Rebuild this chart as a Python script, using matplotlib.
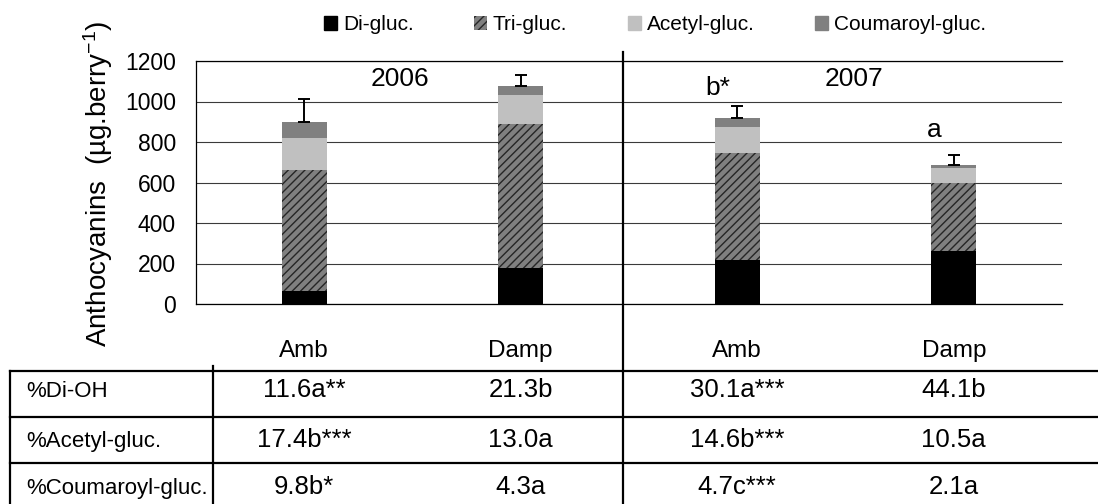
import numpy as np
import matplotlib
matplotlib.use("Agg")
import matplotlib.pyplot as plt
from matplotlib.patches import Patch
from matplotlib.lines import Line2D
import matplotlib.transforms as mtransforms

plt.rcParams["font.family"] = ["Liberation Sans", "DejaVu Sans"]
plt.rcParams["mathtext.default"] = "regular"
plt.rcParams["hatch.linewidth"] = 1.0

# ---- data -------------------------------------------------------------
treatments = ["Amb", "Damp", "Amb", "Damp"]
years = ["2006", "2007"]
di_gluc = [63, 176, 219, 263]
tri_gluc = [598, 711, 525, 334]
acetyl_gluc = [158, 145, 132, 76]
coumaroyl_gluc = [80, 45, 42, 13]
err_upper = [112, 55, 58, 48]
sig_letters = ["", "", "b*", "a"]
sig_letter_y = [0, 0, 1032, 825]

series_names = ["Di-gluc.", "Tri-gluc.", "Acetyl-gluc.", "Coumaroyl-gluc."]
row_labels = ["%Di-OH", "%Acetyl-gluc.", "%Coumaroyl-gluc."]
pct_di_oh = ["11.6a**", "21.3b", "30.1a***", "44.1b"]
pct_acetyl = ["17.4b***", "13.0a", "14.6b***", "10.5a"]
pct_coumaroyl = ["9.8b*", "4.3a", "4.7c***", "2.1a"]

# ---- figure -----------------------------------------------------------
W, H = 1098, 504
fig = plt.figure(figsize=(W / 100, H / 100), dpi=100)


def fx(px):
    return px / W


def fy(py):
    return 1 - py / H


ax = fig.add_axes([fx(196), fy(304), fx(1062) - fx(196), fy(61) - fy(304)])

x = np.arange(len(treatments))
width = 0.21
tri_face, tri_hatch = "#808080", "#262626"
styles = [
    dict(color="#000000"),
    dict(facecolor=tri_face, edgecolor=tri_hatch, hatch="////", linewidth=0),
    dict(color="#c0c0c0"),
    dict(color="#808080"),
]
layers = [di_gluc, tri_gluc, acetyl_gluc, coumaroyl_gluc]
bottom = np.zeros(len(x))
for vals, st in zip(layers, styles):
    ax.bar(x, vals, width, bottom=bottom, zorder=2, **st)
    bottom = bottom + np.array(vals)

ax.errorbar(x, bottom, yerr=[np.zeros(len(x)), err_upper], fmt="none",
            ecolor="black", elinewidth=1.4, capsize=4, capthick=1.4, zorder=3)

for xi, lab, ly in zip(x, sig_letters, sig_letter_y):
    if lab:
        ax.text(xi - 0.09, ly, lab, ha="center", va="baseline", fontsize=19)

ax.text(0.44, 1077, years[0], ha="center", va="baseline", fontsize=19)
ax.text(2.54, 1077, years[1], ha="center", va="baseline", fontsize=19)

ax.set_xlim(-0.5, 3.5)
ax.set_ylim(0, 1200)
ax.set_yticks(np.arange(0, 1201, 200))
ax.set_xticks([])
ax.tick_params(axis="y", length=0, pad=14.4, labelsize=16.5)
ax.yaxis.grid(True, color="#3a3a3a", linewidth=0.8)
ax.set_axisbelow(True)
ax.spines["right"].set_visible(False)
for s in ("left", "top", "bottom"):
    ax.spines[s].set_color("black")
    ax.spines[s].set_linewidth(0.9)

fig.text(fx(98), fy(184), r"Anthocyanins  (µg.berry$^{-1}$)", rotation=90,
         ha="center", va="center", fontsize=20)

# legend
handles = [Patch(**st) for st in styles]
fig.legend(handles, series_names, loc="center", bbox_to_anchor=(fx(655), fy(25)),
           ncol=4, frameon=False, prop={"size": 15},
           handlelength=0.62, handleheight=0.62, handletextpad=0.29,
           columnspacing=2.9, borderpad=0, borderaxespad=0)

# ---- table below the chart --------------------------------------------
lw = 1.6
for py in (371, 417, 463):
    fig.add_artist(Line2D([fx(10), 1], [fy(py), fy(py)], color="black", lw=lw))
for px, top in ((10, 371), (213, 366), (623, 52)):
    fig.add_artist(Line2D([fx(px), fx(px)], [fy(top), 0], color="black", lw=lw))

col_tr = mtransforms.blended_transform_factory(ax.transData, fig.transFigure)
for xi, t in zip(x, treatments):
    fig.text(xi, fy(357), t, transform=col_tr, ha="center", va="baseline",
             fontsize=17.5)

row_base = [397, 447, 494]
for lab, vals, by in zip(row_labels, [pct_di_oh, pct_acetyl, pct_coumaroyl], row_base):
    fig.text(fx(26), fy(by), lab, ha="left", va="baseline", fontsize=16)
    for xi, v in zip(x, vals):
        fig.text(xi, fy(by), v, transform=col_tr, ha="center", va="baseline",
                 fontsize=18.5)

fig.savefig("out.png", dpi=100)
